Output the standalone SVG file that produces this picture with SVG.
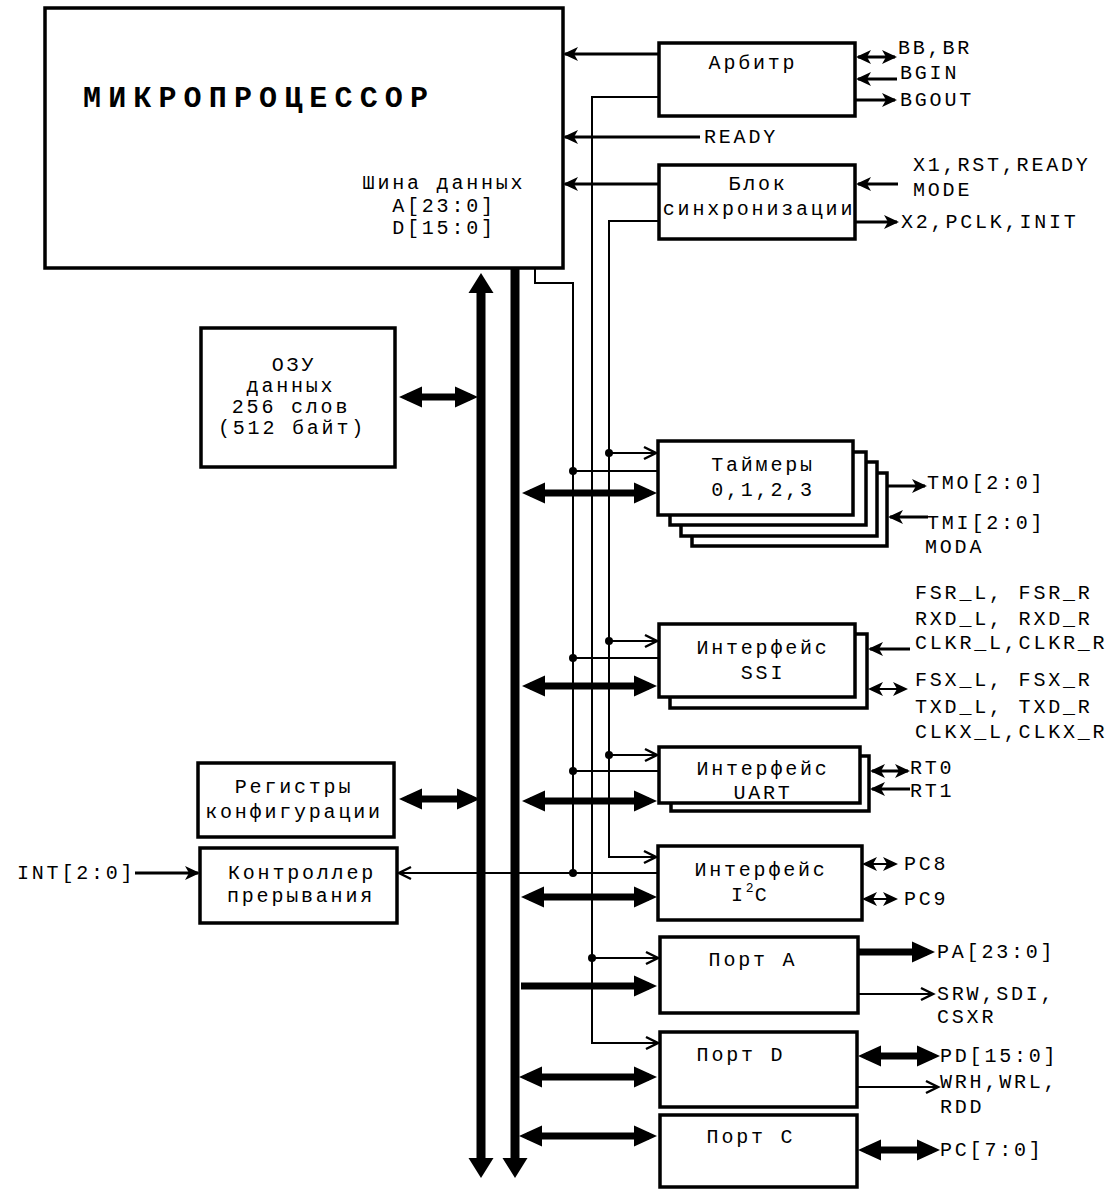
<svg xmlns="http://www.w3.org/2000/svg" width="1117" height="1190" viewBox="0 0 1117 1190">
<style>
.t{font-family:"Liberation Mono","DejaVu Sans Mono",monospace;font-size:20px;letter-spacing:2.8px;fill:#000}
.c{text-anchor:middle}
.box{fill:#fff;stroke:#000;stroke-width:3.5}
.w3{stroke:#000;stroke-width:3;fill:none}
.w2{stroke:#000;stroke-width:2;fill:none}
.tk{stroke:#000;stroke-width:7;fill:none}
</style>
<defs>
<marker id="a" viewBox="-2 -9 20 18" refX="13" refY="0" markerWidth="20" markerHeight="18" markerUnits="userSpaceOnUse" orient="auto-start-reverse"><path d="M0,-7 L15,0 L0,7 L4,0 z" fill="#000"/></marker>
<marker id="s" viewBox="-2 -9 18 18" refX="12" refY="0" markerWidth="18" markerHeight="18" markerUnits="userSpaceOnUse" orient="auto-start-reverse"><path d="M0,-6 L12,0 L0,6" fill="none" stroke="#000" stroke-width="2.5"/></marker>
<marker id="b" viewBox="-1 -12 26 24" refX="15" refY="0" markerWidth="26" markerHeight="24" markerUnits="userSpaceOnUse" orient="auto-start-reverse"><path d="M0,-10.5 L23,0 L0,10.5 z" fill="#000"/></marker>
</defs>
<rect width="1117" height="1190" fill="#fff"/>

<g id="connectors">
<polygon points="481,273 493.5,293 485.5,293 485.5,1158 493.5,1158 481,1178 468.5,1158 476.5,1158 476.5,293 468.5,293" fill="#000"/>
<polygon points="510.5,268 519.5,268 519.5,1158 527.5,1158 515,1178 502.5,1158 510.5,1158" fill="#000"/>
<line class="w3" x1="659" y1="54" x2="565" y2="54" marker-end="url(#a)"/>
<line class="w3" x1="700" y1="137" x2="565" y2="137" marker-end="url(#a)"/>
<line class="w3" x1="659" y1="184" x2="565" y2="184" marker-end="url(#a)"/>
<polyline class="w2" points="659,97 592,97 592,1043 658,1043" marker-end="url(#s)"/>
<polyline class="w2" points="659,221 609,221 609,857 656,857" marker-end="url(#s)"/>
<polyline class="w2" points="535,269 535,283 573,283 573,873"/>
<line class="w2" x1="658" y1="873" x2="399" y2="873" marker-end="url(#s)"/>
<line class="w2" x1="609" y1="453" x2="656" y2="453" marker-end="url(#s)"/>
<line class="w2" x1="573" y1="471" x2="658" y2="471"/>
<line class="tk" x1="530" y1="493" x2="649" y2="493" marker-start="url(#b)" marker-end="url(#b)"/>
<line class="w2" x1="609" y1="641" x2="657" y2="641" marker-end="url(#s)"/>
<line class="w2" x1="573" y1="658" x2="659" y2="658"/>
<line class="tk" x1="530" y1="686" x2="649" y2="686" marker-start="url(#b)" marker-end="url(#b)"/>
<line class="w2" x1="609" y1="755" x2="657" y2="755" marker-end="url(#s)"/>
<line class="w2" x1="573" y1="771" x2="659" y2="771"/>
<line class="tk" x1="530" y1="801" x2="649" y2="801" marker-start="url(#b)" marker-end="url(#b)"/>
<line class="tk" x1="529" y1="897" x2="649" y2="897" marker-start="url(#b)" marker-end="url(#b)"/>
<line class="w2" x1="592" y1="958" x2="658" y2="958" marker-end="url(#s)"/>
<line class="tk" x1="521" y1="986" x2="649" y2="986" marker-end="url(#b)"/>
<line class="tk" x1="527" y1="1077" x2="649" y2="1077" marker-start="url(#b)" marker-end="url(#b)"/>
<line class="tk" x1="527" y1="1136" x2="649" y2="1136" marker-start="url(#b)" marker-end="url(#b)"/>
<line class="tk" x1="407" y1="397" x2="470" y2="397" marker-start="url(#b)" marker-end="url(#b)"/>
<line class="tk" x1="407" y1="799" x2="472" y2="799" marker-start="url(#b)" marker-end="url(#b)"/>
<line class="w3" x1="135" y1="873" x2="198" y2="873" marker-end="url(#a)"/>
<line class="w3" x1="858" y1="57" x2="895" y2="57" marker-start="url(#a)" marker-end="url(#a)"/>
<line class="w3" x1="897" y1="79" x2="858" y2="79" marker-end="url(#a)"/>
<line class="w3" x1="856" y1="100" x2="895" y2="100" marker-end="url(#a)"/>
<line class="w3" x1="898" y1="184" x2="858" y2="184" marker-end="url(#a)"/>
<line class="w3" x1="856" y1="222" x2="897" y2="222" marker-end="url(#a)"/>
<line class="w3" x1="888" y1="486" x2="925" y2="486" marker-end="url(#a)"/>
<line class="w3" x1="928" y1="517" x2="890" y2="517" marker-end="url(#a)"/>
<line class="w3" x1="910" y1="649" x2="870" y2="649" marker-end="url(#a)"/>
<line class="w2" x1="870" y1="689" x2="906" y2="689" marker-start="url(#a)" marker-end="url(#a)"/>
<line class="w3" x1="872" y1="771" x2="908" y2="771" marker-start="url(#a)" marker-end="url(#a)"/>
<line class="w3" x1="910" y1="789" x2="872" y2="789" marker-end="url(#a)"/>
<line class="w2" x1="864" y1="864" x2="896" y2="864" marker-start="url(#a)" marker-end="url(#a)"/>
<line class="w2" x1="864" y1="899" x2="896" y2="899" marker-start="url(#a)" marker-end="url(#a)"/>
<line class="tk" x1="858" y1="952" x2="927" y2="952" marker-end="url(#b)"/>
<line class="w2" x1="858" y1="994" x2="933" y2="994" marker-end="url(#s)"/>
<line class="tk" x1="866" y1="1056" x2="932" y2="1056" marker-start="url(#b)" marker-end="url(#b)"/>
<line class="w2" x1="858" y1="1087" x2="938" y2="1087" marker-end="url(#s)"/>
<line class="tk" x1="866" y1="1150" x2="932" y2="1150" marker-start="url(#b)" marker-end="url(#b)"/>
<g fill="#000">
<circle cx="609" cy="453" r="4"/><circle cx="573" cy="471" r="4"/>
<circle cx="609" cy="641" r="4"/><circle cx="573" cy="658" r="4"/>
<circle cx="609" cy="755" r="4"/><circle cx="573" cy="771" r="4"/>
<circle cx="573" cy="873" r="4"/><circle cx="592" cy="958" r="4"/>
</g>
</g>

<g id="mp">
<rect class="box" x="45" y="8" width="518" height="260"/>
<text x="83" y="107" font-family="Liberation Mono, monospace" font-weight="bold" font-size="30" textLength="345" lengthAdjust="spacing">МИКРОПРОЦЕССОР</text>
<text class="t c" x="444" y="189">Шина данных</text>
<text class="t c" x="444" y="212">A[23:0]</text>
<text class="t c" x="444" y="234">D[15:0]</text>
</g>

<g id="arbiter">
<rect class="box" x="659" y="43" width="196" height="73"/>
<text class="t c" x="753" y="69">Арбитр</text>
</g>
<g id="ready-label"><text class="t" x="704" y="143">READY</text></g>

<g id="sync">
<rect class="box" x="659" y="165" width="196" height="74"/>
<text class="t c" x="758" y="190">Блок</text>
<text class="t c" x="759" y="215">синхронизации</text>
</g>

<g id="ext-labels-top">
<text class="t" x="898" y="54">BB,BR</text>
<text class="t" x="900" y="79">BGIN</text>
<text class="t" x="900" y="106">BGOUT</text>
<text class="t" x="913" y="171">X1,RST,READY</text>
<text class="t" x="913" y="196">MODE</text>
<text class="t" x="901" y="228">X2,PCLK,INIT</text>
</g>

<g id="ram">
<rect class="box" x="201" y="328" width="194" height="139"/>
<text class="t c" x="294" y="371" font-size="24" letter-spacing="3.4">ОЗУ</text>
<text class="t c" x="291" y="392">данных</text>
<text class="t c" x="291" y="413">256 слов</text>
<text class="t c" x="292" y="434">(512 байт)</text>
</g>

<g id="timers">
<rect class="box" x="692" y="473" width="195" height="73"/>
<rect class="box" x="681" y="462" width="196" height="74"/>
<rect class="box" x="670" y="452" width="196" height="73"/>
<rect class="box" x="658" y="441" width="195" height="74"/>
<text class="t c" x="763" y="471">Таймеры</text>
<text class="t c" x="763" y="496">0,1,2,3</text>
<text class="t" x="927" y="489">TMO[2:0]</text>
<text class="t" x="927" y="529">TMI[2:0]</text>
<text class="t" x="925" y="553">MODA</text>
</g>

<g id="ssi">
<rect class="box" x="670" y="634" width="197" height="74"/>
<rect class="box" x="659" y="624" width="196" height="73"/>
<text class="t c" x="763" y="654">Интерфейс</text>
<text class="t c" x="763" y="679">SSI</text>
<text class="t" x="915" y="599">FSR_L, FSR_R</text>
<text class="t" x="915" y="625">RXD_L, RXD_R</text>
<text class="t" x="915" y="649">CLKR_L,CLKR_R</text>
<text class="t" x="915" y="686">FSX_L, FSX_R</text>
<text class="t" x="915" y="713">TXD_L, TXD_R</text>
<text class="t" x="915" y="738">CLKX_L,CLKX_R</text>
</g>

<g id="uart">
<rect class="box" x="671" y="756" width="198" height="55"/>
<rect class="box" x="659" y="747" width="201" height="56"/>
<text class="t c" x="763" y="775">Интерфейс</text>
<text class="t c" x="763" y="799">UART</text>
<text class="t" x="910" y="774" font-size="19">RT0</text>
<text class="t" x="910" y="797" font-size="19">RT1</text>
</g>

<g id="config">
<rect class="box" x="198" y="763" width="196" height="74"/>
<text class="t c" x="294" y="793">Регистры</text>
<text class="t c" x="294" y="818">конфигурации</text>
</g>

<g id="intc">
<rect class="box" x="200" y="848" width="197" height="75"/>
<text class="t c" x="302" y="879">Контроллер</text>
<text class="t c" x="301" y="902">прерывания</text>
<text class="t" x="17" y="879">INT[2:0]</text>
</g>

<g id="i2c">
<rect class="box" x="658" y="846" width="204" height="74"/>
<text class="t c" x="761" y="876">Интерфейс</text>
<text class="t" x="731" y="901">I<tspan font-size="13" letter-spacing="1" dy="-9">2</tspan><tspan dy="9">C</tspan></text>
<text class="t" x="904" y="870">PC8</text>
<text class="t" x="904" y="905">PC9</text>
</g>

<g id="porta">
<rect class="box" x="660" y="937" width="198" height="76"/>
<text class="t c" x="753" y="966">Порт A</text>
<text class="t" x="937" y="958">PA[23:0]</text>
<text class="t" x="937" y="1000">SRW,SDI,</text>
<text class="t" x="937" y="1023">CSXR</text>
</g>

<g id="portd">
<rect class="box" x="660" y="1032" width="197" height="75"/>
<text class="t c" x="741" y="1061">Порт D</text>
<text class="t" x="940" y="1062">PD[15:0]</text>
<text class="t" x="940" y="1088">WRH,WRL,</text>
<text class="t" x="940" y="1113">RDD</text>
</g>

<g id="portc">
<rect class="box" x="660" y="1115" width="197" height="72"/>
<text class="t c" x="751" y="1143">Порт C</text>
<text class="t" x="940" y="1156">PC[7:0]</text>
</g>
</svg>
